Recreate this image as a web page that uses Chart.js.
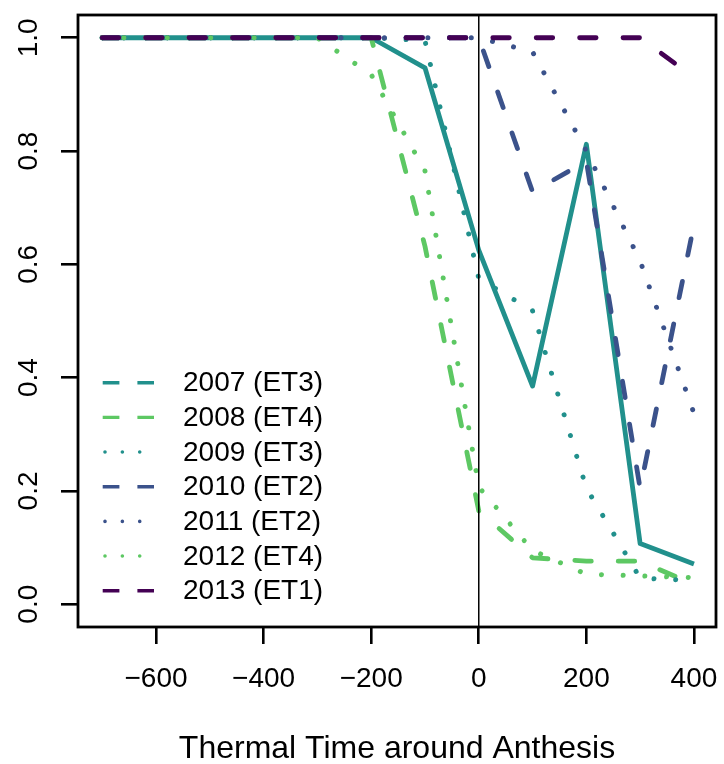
<!DOCTYPE html>
<html>
<head>
<meta charset="utf-8">
<script src="https://cdn.jsdelivr.net/npm/chart.js@4/dist/chart.umd.min.js"></script>
<style>
  html, body { margin: 0; padding: 0; background: #fff; }
  canvas { display: block; }
</style>
</head>
<body>
<canvas id="chart" width="724" height="764"></canvas>
<script>
// ---- data ----
const thermalTime = [-700, -600, -500, -400, -300, -200, -100, 0, 100, 200, 300, 400];

const y2007 = [1, 1, 1, 1, 1, 1, 0.947, 0.625, 0.385, 0.812, 0.107, 0.071];
const y2008 = [1, 1, 1, 1, 1, 1, 0.632, 0.165, 0.082, 0.076, 0.076, 0.035];
const y2009 = [1, 1, 1, 1, 1, 1, 0.995, 0.575, 0.518, 0.205, 0.046, 0.042];
const y2010 = [1, 1, 1, 1, 1, 1, 1, 1, 0.728, 0.782, 0.204, 0.67];
const y2011 = [1, 1, 1, 1, 1, 1, 1, 1, 0.975, 0.80, 0.606, 0.337];
const y2012 = [1, 1, 1, 1, 1, 0.935, 0.765, 0.207, 0.095, 0.053, 0.05, 0.047];
const y2013 = [1, 1, 1, 1, 1, 1, 1, 1, 1, 1, 1, 0.93];

const seriesNames  = ['2007 (ET3)', '2008 (ET4)', '2009 (ET3)', '2010 (ET2)', '2011 (ET2)', '2012 (ET4)', '2013 (ET1)'];
const seriesValues = [y2007, y2008, y2009, y2010, y2011, y2012, y2013];
const seriesColors = ['#21908C', '#5DC863', '#21908C', '#3B528B', '#3B528B', '#5DC863', '#440154'];
const plotStyles   = ['solid', 'dashed', 'dotted', 'dashed', 'dotted', 'dotted', 'dashed'];
const legendStyles = ['dashed', 'dashed', 'dotted', 'dashed', 'dotted', 'dotted', 'dashed'];

const xTicks = [-600, -400, -200, 0, 200, 400];
const yTicks = [0, 0.2, 0.4, 0.6, 0.8, 1.0];
const xTitle = 'Thermal Time around Anthesis';

const FONT = '"Liberation Sans", Arial, Helvetica, sans-serif';
const dashFor = s => s === 'dashed' ? [16.5, 26.9] : s === 'dotted' ? [0.01, 21.7] : [];

const datasets = seriesNames.map((name, i) => ({
  label: name,
  data: thermalTime.map((t, j) => ({ x: t, y: seriesValues[i][j] })),
  borderColor: seriesColors[i],
  borderWidth: plotStyles[i] === 'dotted' ? 5 : 4.8,
  borderDash: dashFor(plotStyles[i]),
  borderCapStyle: plotStyles[i] === 'solid' ? 'butt' : 'round',
  borderJoinStyle: 'round',
  pointRadius: 0,
  tension: 0,
  fill: false,
  order: seriesNames.length - i   // later years drawn on top
}));

// box, x=0 reference line, rotated y labels, x title, legend
const decorations = {
  id: 'decorations',
  afterDatasetsDraw(chart) {
    const { ctx, chartArea: a, scales: { x } } = chart;
    ctx.save();
    const x0 = x.getPixelForValue(0);
    ctx.strokeStyle = '#000';
    ctx.lineWidth = 1.5;
    ctx.beginPath();
    ctx.moveTo(x0, a.top);
    ctx.lineTo(x0, a.bottom);
    ctx.stroke();
    ctx.lineWidth = 2.8;
    ctx.strokeRect(a.left, a.top, a.right - a.left, a.bottom - a.top);
    ctx.restore();
  },
  afterDraw(chart) {
    const { ctx, chartArea: a, scales: { y } } = chart;
    ctx.save();
    ctx.fillStyle = '#000';
    // y tick labels, rotated
    ctx.font = '28px ' + FONT;
    ctx.textAlign = 'center';
    ctx.textBaseline = 'middle';
    yTicks.forEach(v => {
      ctx.save();
      ctx.translate(29, y.getPixelForValue(v));
      ctx.rotate(-Math.PI / 2);
      ctx.fillText(v.toFixed(1), 0, 0);
      ctx.restore();
    });
    // x axis title
    ctx.font = '32px ' + FONT;
    ctx.textBaseline = 'alphabetic';
    ctx.fillText(xTitle, (a.left + a.right) / 2, 758);
    // legend
    ctx.font = '28px ' + FONT;
    ctx.textAlign = 'left';
    ctx.textBaseline = 'middle';
    seriesNames.forEach((name, i) => {
      const ly = 382.7 + i * 34.67;
      ctx.strokeStyle = seriesColors[i];
      ctx.beginPath();
      if (legendStyles[i] === 'dashed') {
        ctx.lineWidth = 3.4;
        ctx.lineCap = 'butt';
        ctx.setLineDash([16.7, 18]);
        ctx.moveTo(102.7, ly);
        ctx.lineTo(154, ly);
      } else {
        ctx.lineWidth = 3.6;
        ctx.lineCap = 'round';
        ctx.setLineDash([0.01, 17.35]);
        ctx.moveTo(105, ly);
        ctx.lineTo(150, ly);
      }
      ctx.stroke();
      ctx.setLineDash([]);
      ctx.fillText(name, 183, ly + 1);
    });
    ctx.restore();
  }
};

new Chart(document.getElementById('chart'), {
  type: 'line',
  data: { datasets },
  options: {
    responsive: false,
    animation: false,
    devicePixelRatio: 1,
    layout: { padding: { top: 15, right: 8, left: 0, bottom: 0 } },
    plugins: { legend: { display: false }, tooltip: { enabled: false } },
    scales: {
      x: {
        type: 'linear',
        min: -745, max: 441,
        afterBuildTicks: s => { s.ticks = xTicks.map(v => ({ value: v })); },
        afterFit: s => { s.height = 137; s.paddingLeft = 0; s.paddingRight = 0; },
        border: { display: false },
        grid: { drawOnChartArea: false, drawTicks: true, tickLength: 17, color: '#000', lineWidth: 2.6 },
        ticks: {
          color: '#000', padding: 18, maxRotation: 0, autoSkip: false,
          font: { size: 28, family: FONT },
          callback: v => String(v).replace('-', '\u2212')
        }
      },
      y: {
        type: 'linear',
        min: -0.0402, max: 1.0402,
        afterBuildTicks: s => { s.ticks = yTicks.map(v => ({ value: v })); },
        afterFit: s => { s.width = 78; s.paddingTop = 0; s.paddingBottom = 0; },
        border: { display: false },
        grid: { drawOnChartArea: false, drawTicks: true, tickLength: 17, color: '#000', lineWidth: 2.6 },
        ticks: { display: false }
      }
    }
  },
  plugins: [decorations]
});
</script>
</body>
</html>
